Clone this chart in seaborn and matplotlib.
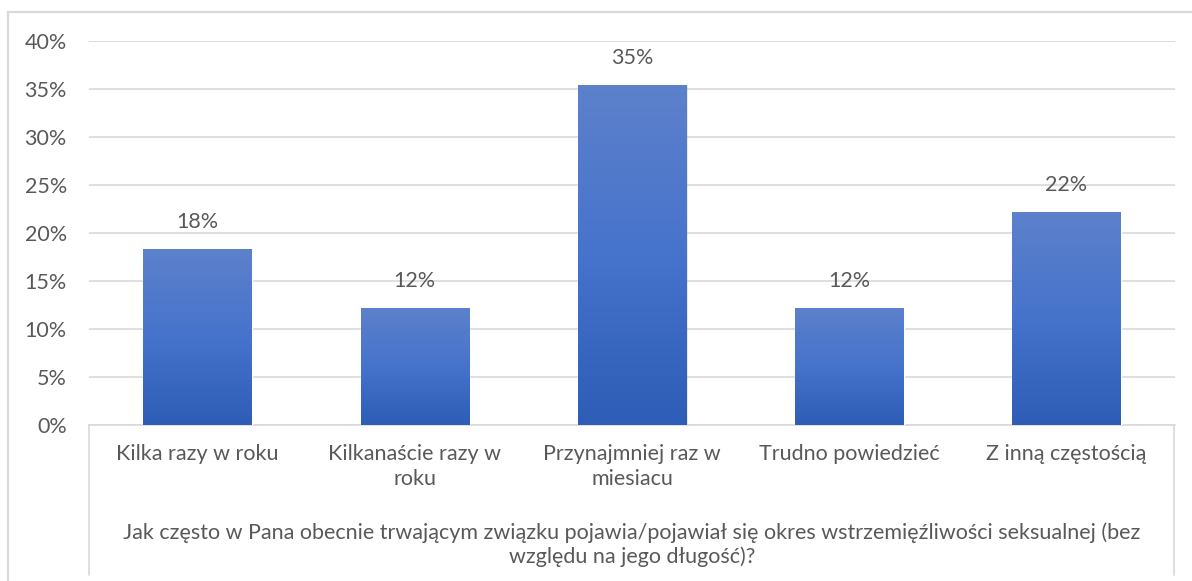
import numpy as np
import pandas as pd
import matplotlib
matplotlib.use("Agg")
import matplotlib.pyplot as plt
import seaborn as sns
from matplotlib.colors import LinearSegmentedColormap
from matplotlib.patches import Rectangle
from matplotlib.lines import Line2D
from matplotlib.ticker import PercentFormatter

# dane
kategorie = ["Kilka razy w roku", "Kilkanaście razy w\nroku", "Przynajmniej raz w\nmiesiacu",
             "Trudno powiedzieć", "Z inną częstością"]
wartosci = [0.183, 0.122, 0.354, 0.122, 0.222]
etykiety = ["18%", "12%", "35%", "12%", "22%"]
tytul_osi = ("Jak często w Pana obecnie trwającym związku pojawia/pojawiał się okres wstrzemięźliwości seksualnej (bez\n"
             "względu na jego długość)?")

df = pd.DataFrame({"kat": kategorie, "val": wartosci})

sns.set_style("white")
plt.rcParams["font.family"] = ["Lato", "DejaVu Sans"]
szary = "#595959"
fs = 15.5

fig = plt.figure(figsize=(11.92, 5.81), dpi=100)
ax = fig.add_axes([89 / 1192, 156 / 581, (1175 - 89) / 1192, (425 - 41) / 581])

sns.barplot(data=df, x="kat", y="val", color="#4472c4", width=0.5, ax=ax, zorder=3)

# gradient na słupkach
cmap = LinearSegmentedColormap.from_list("g", ["#2d5db6", "#4673cb", "#5d81cc"])
grad = np.linspace(0, 1, 256).reshape(-1, 1)
for p in ax.patches[:]:
    x0, w, h = p.get_x(), p.get_width(), p.get_height()
    im = ax.imshow(grad, cmap=cmap, aspect="auto", origin="lower",
                   extent=[x0, x0 + w, 0, h], zorder=3.5)
    im.set_clip_path(p)
    # lekki cień
    ax.add_patch(Rectangle((x0 + 0.006, 0), w, h, facecolor="#000000", alpha=0.12,
                           edgecolor="none", zorder=2.9))

for i, (v, t) in enumerate(zip(wartosci, etykiety)):
    ax.text(i, v + 0.018, t, ha="center", va="bottom", fontsize=fs, color=szary)

ax.set_xlim(-0.5, 4.5)
ax.set_ylim(0, 0.40)
ax.set_yticks(np.arange(0, 0.41, 0.05))
ax.yaxis.set_major_formatter(PercentFormatter(1.0, decimals=0))
ax.grid(axis="y", color="#d9d9d9", lw=1.2, zorder=0)
ax.set_axisbelow(True)
for s in ["top", "right", "left"]:
    ax.spines[s].set_visible(False)
ax.spines["bottom"].set_color("#d9d9d9")
ax.spines["bottom"].set_linewidth(1.2)
ax.tick_params(axis="y", length=0, pad=16, labelsize=fs, labelcolor=szary)
ax.tick_params(axis="x", length=0, pad=14, labelsize=fs, labelcolor=szary)
for lab in ax.get_xticklabels():
    lab.set_linespacing(1.3)
ax.set_ylabel("")
ax.set_xlabel(tytul_osi, fontsize=fs, color=szary, labelpad=24, linespacing=1.2)

# ramka osi kategorii i ramka wykresu
for xp in [89 / 1192, 1174 / 1192]:
    fig.add_artist(Line2D([xp, xp], [156 / 581, 6 / 581], color="#d9d9d9", lw=1.2))
fig.add_artist(Rectangle((8 / 1192, -0.1), 1.2, (581 - 12) / 581 + 0.1, transform=fig.transFigure,
                         facecolor="none", edgecolor="#d9d9d9", lw=1.6))

fig.savefig("out.png", dpi=100)
